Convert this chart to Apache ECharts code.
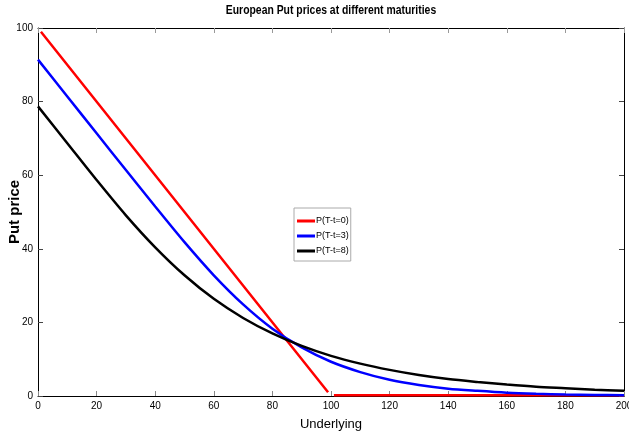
<!DOCTYPE html>
<html><head><meta charset="utf-8">
<script src="https://cdn.jsdelivr.net/npm/echarts@6/dist/echarts.min.js"></script>
<style>html,body{margin:0;padding:0;background:#fff}#c{width:629px;height:440px}</style>
</head><body><div id="c"></div>
<script>
var underlying = [0,10,20,30,40,50,60,70,80,90,100,110,120,130,140,150,160,170,180,190,200];
var putT3 = [91.4,81.4,71.4,61.4,51.5,41.8,32.8,24.9,18.3,13.2,9.3,6.5,4.4,3.0,2.0,1.4,0.9,0.6,0.4,0.3,0.2];
var putT8 = [78.7,68.7,58.7,49.1,40.4,32.8,26.4,21.2,17.0,13.6,10.9,8.8,7.1,5.7,4.6,3.8,3.1,2.5,2.1,1.7,1.4];
var redX = [1,99,100,101,200];
var putT0 = [99,1,null,0.2,0.2];
var names = ['P(T-t=0)','P(T-t=3)','P(T-t=8)'];
var titleText = 'European Put prices at different maturities';

var FONT = "'Liberation Sans',Arial,sans-serif";
function pairs(xs, ys){ return xs.map(function(x,i){return [x, ys[i]];}); }
var chart = echarts.init(document.getElementById('c'), null, {renderer:'canvas'});
function ticks(c){ return {show:true, inside:true, length:5, lineStyle:{color:c, width:1}}; }
var axisLine = {show:true, onZero:false, lineStyle:{color:'#000', width:1}};
chart.setOption({
  animation:false,
  backgroundColor:'#fff',
  graphic:[{type:'text', x:331, y:4, scaleX:0.8, originX:0, originY:0, z:10,
    style:{text:titleText, fontFamily:FONT, fontWeight:'bold', fontSize:13, fill:'#000', align:'center', verticalAlign:'top'}}],
  legend:{orient:'vertical', left:294, top:208, data:names, icon:'rect',
    backgroundColor:'#fff', borderColor:'#aaa', borderWidth:1, padding:[8,2,5,3], itemGap:5,
    itemWidth:18, itemHeight:3,
    textStyle:{fontFamily:FONT, fontSize:9, color:'#000', padding:[0,0,0,-4], lineHeight:10}},
  grid:{left:38, right:5, top:28, bottom:44, containLabel:false, outerBoundsMode:'none'},
  xAxis:[{type:'value', min:0, max:200, interval:20, name:'Underlying', nameLocation:'middle', nameGap:22,
    nameMoveOverlap:false,
    nameTextStyle:{fontFamily:FONT, fontSize:13, color:'#000'},
    axisLine:axisLine, axisTick:ticks('#888'),
    axisLabel:{fontFamily:FONT, fontSize:10, color:'#000', margin:5, showMaxLabel:true},
    splitLine:{show:false}},
    {type:'value', min:0, max:200, interval:20, position:'top',
    axisLine:axisLine, axisTick:ticks('#999'), axisLabel:{show:false}, splitLine:{show:false}}],
  yAxis:[{type:'value', min:0, max:100, interval:20, name:'Put price', nameLocation:'middle', nameGap:16,
    nameMoveOverlap:false,
    nameTextStyle:{fontFamily:FONT, fontSize:15, fontWeight:'bold', color:'#000'},
    axisLine:axisLine, axisTick:ticks('#444'),
    axisLabel:{fontFamily:FONT, fontSize:10, color:'#000', margin:5},
    splitLine:{show:false}},
    {type:'value', min:0, max:100, interval:20, position:'right',
    axisLine:axisLine, axisTick:ticks('#444'), axisLabel:{show:false}, splitLine:{show:false}}],
  series:[
    {name:names[0], type:'line', data:pairs(redX, putT0), symbol:'none', connectNulls:false,
      lineStyle:{color:'#ff0000', width:2.5}, itemStyle:{color:'#ff0000'}, z:3},
    {name:names[1], type:'line', data:pairs(underlying, putT3), symbol:'none', smooth:0.3,
      lineStyle:{color:'#0000ff', width:2.5}, itemStyle:{color:'#0000ff'}, z:4},
    {name:names[2], type:'line', data:pairs(underlying, putT8), symbol:'none', smooth:0.3,
      lineStyle:{color:'#000000', width:2.5}, itemStyle:{color:'#000000'}, z:5}
  ]
});
</script></body></html>
